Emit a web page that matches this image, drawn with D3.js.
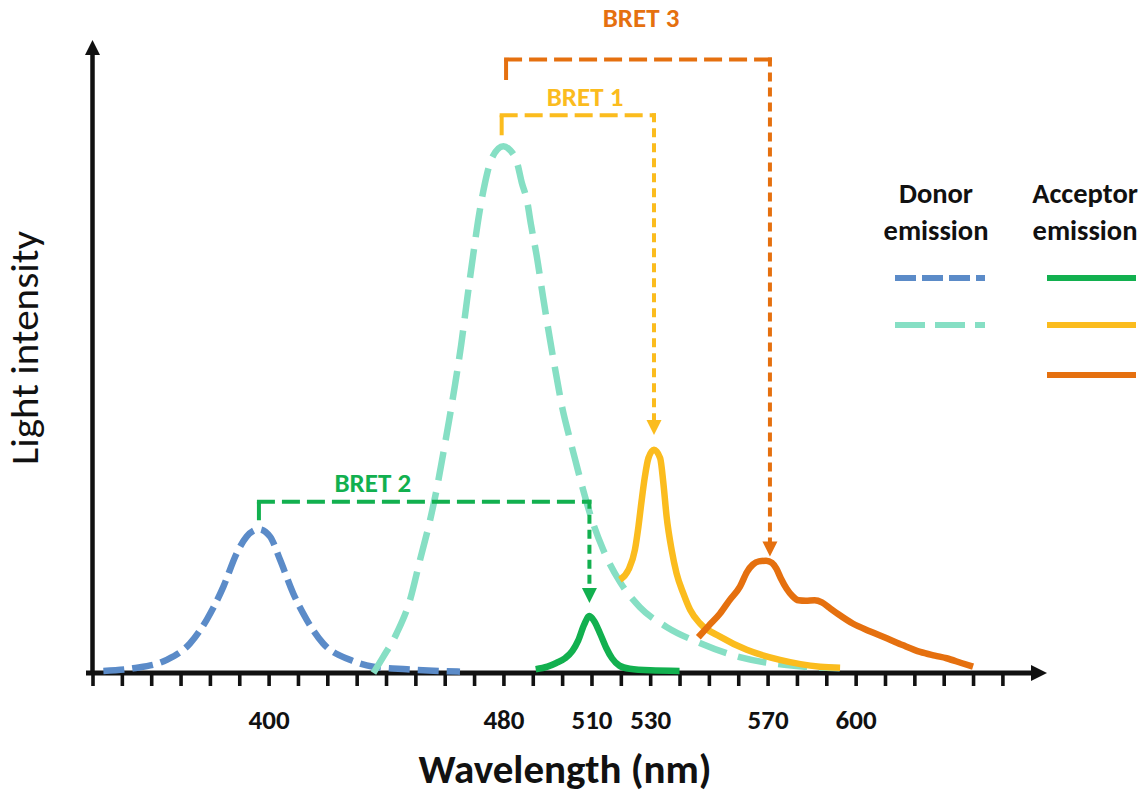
<!DOCTYPE html>
<html><head><meta charset="utf-8">
<script src="https://cdn.jsdelivr.net/npm/d3@7"></script>
<style>
html,body{margin:0;padding:0;background:#fff;}
svg{display:block;font-family:Carlito, Lato, "Open Sans", sans-serif;}
</style></head><body>
<svg id="chart" width="1142" height="800"></svg>
<script>
// ---------------- data ----------------
// wavelength axis (nm): one tick every 10 nm
const xTickValues = [340,350,360,370,380,390,400,410,420,430,440,450,460,470,480,490,500,510,520,530,540,550,560,570,580,590,600,610,620,630,640,650];
const xTickLabels = [400, 480, 510, 530, 570, 600];

// emission spectra: [wavelength nm, relative intensity (teal peak = 100)]
const donorBlue = [[343.7,0.4],[353.9,0.9],[365.3,2.5],[373.2,5.6],[378.9,10.1],[384.6,16.4],[389.1,22.7],[392.5,25.9],[396.7,27.3],[400.5,25.9],[403.9,21.5],[408.4,15.1],[413,10.1],[418.6,5.6],[427.7,2.5],[435.7,1.2],[447.1,0.7],[465.2,0.25]];
const donorTeal = [[435.7,0],[439.1,3.1],[443.6,7.5],[448.2,13.9],[451.6,21.5],[455,29],[457.4,35.3],[459.4,41.4],[461.5,48],[463.5,54.7],[465.6,62.3],[467.6,70.8],[469.7,79.4],[471.7,87],[473.7,93],[476.1,97.8],[480,100],[482.2,99.3],[484.6,97],[486.3,93],[488,89.8],[489.4,85.1],[491.4,79],[493.5,71.4],[495.9,63.2],[498.3,55.6],[500,50.5],[502.1,45.6],[504.5,40.4],[506.9,35.3],[510.2,29],[514,23.4],[519.7,17.3],[526.5,12.5],[535.7,8.7],[546.9,5.7],[560.5,3],[576.5,1.5],[594.6,0.9]];
const acceptorGreen = [[491,0.7],[495,1.2],[498,1.9],[501,2.8],[503.5,4.2],[505.5,6.2],[507.5,9.2],[509.3,10.8],[511,9.8],[513,7.4],[515,4.8],[517,2.8],[519.5,1.4],[523,0.8],[530,0.5],[540,0.4]];
const acceptorYellow = [[519.7,17.7],[522.6,19.6],[524.8,23.4],[526,27.8],[527.1,32.8],[528.2,37.3],[529.4,40.8],[531.3,42.4],[533.4,40.8],[534.5,36],[535.6,29.7],[537.3,23.4],[539,18.9],[541.3,15.1],[543.6,12],[547,9.4],[553.8,6.9],[562.9,4.4],[574.2,2.5],[587.9,1.2],[594.7,1.0]];
const acceptorOrange = [[546.4,6.8],[550,9],[553.8,11.3],[557,13.8],[560.6,16.4],[563,19.2],[565,20.6],[567,21.2],[569.5,21.3],[571.5,20.9],[573,19.8],[574.5,18],[576.5,16],[578.5,14.6],[580.5,13.8],[583,13.7],[586,13.8],[588.5,13.4],[591,12.4],[594,11.2],[599,9.4],[605,7.9],[610.6,6.6],[616,5.3],[622,4],[627,3.3],[631,2.8],[636,1.9],[640,1.2]];

// BRET pairs: donor peak -> acceptor peak (nm), bracket level / start / arrow tip (intensity)
const bretNames = ["BRET 1", "BRET 2", "BRET 3"];
const bretDonorNm = [479.4, 396.7, 480.9];
const bretAcceptorNm = [531.3, 509.3, 570.8];
const bretLevel = [105.9, 32.5, 116.5];
const bretStart = [102.1, 29, 112.6];
const bretTip = [45.2, 13.3, 22.1];

const legendHeaders = [["Donor", "emission"], ["Acceptor", "emission"]];

// ---------------- styles ----------------
const C = {blue:"#5b8bc8", teal:"#86dfc4", green:"#12b04f", yellow:"#fbbc1e", orange:"#e5700f"};
const bretColors = [C.yellow, C.green, C.orange];
const bretLabelNm = [507.8, 435.5, 526.9];
const bretLabelVal = [107.7, 34.3, 122.7];

const svg = d3.select("#chart");
const x = d3.scaleLinear().domain([340, 650]).range([92.5, 1002.4]);
const y = d3.scaleLinear().domain([0, 120]).range([673, 41]);

// ---------------- axes ----------------
const xAxis = d3.axisBottom(x).tickValues(xTickValues).tickSize(13)
  .tickFormat(d => xTickLabels.includes(d) ? d : "");
const gx = svg.append("g").attr("transform", `translate(0,${y(0)})`).call(xAxis);
gx.select(".domain").remove();
gx.selectAll(".tick line").attr("stroke", "#111").attr("stroke-width", 3.6);
gx.selectAll(".tick text").attr("fill", "#111").attr("font-size", 27).attr("font-weight", 700)
  .attr("y", 56).attr("dy", 0).attr("font-family", "Carlito, Lato, sans-serif");

// x axis line with arrow
svg.append("line").attr("x1", 86).attr("x2", 1033).attr("y1", y(0)).attr("y2", y(0))
  .attr("stroke", "#111").attr("stroke-width", 5);
svg.append("path").attr("fill", "#111")
  .attr("d", `M1047,${y(0)} L1031,${y(0)-8} L1031,${y(0)+8} Z`);
// y axis line with arrow
svg.append("line").attr("x1", x(340)).attr("x2", x(340)).attr("y1", y(0)+2).attr("y2", 54)
  .attr("stroke", "#111").attr("stroke-width", 4.5);
svg.append("path").attr("fill", "#111")
  .attr("d", `M${x(340)},40 L${x(340)-7.5},55 L${x(340)+7.5},55 Z`);

// axis titles
svg.append("text").attr("x", 565).attr("y", 783).attr("text-anchor", "middle")
  .attr("font-size", 41).attr("font-weight", 700).attr("fill", "#111").text("Wavelength (nm)");
svg.append("text").attr("transform", "translate(38,348) rotate(-90)").attr("text-anchor", "middle")
  .attr("font-size", 38).attr("textLength", 234).attr("lengthAdjust", "spacingAndGlyphs")
  .attr("fill", "#111").text("Light intensity");

// ---------------- curves ----------------
const line = d3.line().x(d => x(d[0])).y(d => y(d[1])).curve(d3.curveMonotoneX);
const series = [
  {data: donorBlue, color: C.blue, dash: "21,8"},
  {data: donorTeal, color: C.teal, dash: "29,12"},
  {data: acceptorGreen, color: C.green, dash: null},
  {data: acceptorYellow, color: C.yellow, dash: null},
  {data: acceptorOrange, color: C.orange, dash: null}
];
svg.append("g").selectAll("path").data(series).join("path")
  .attr("d", d => line(d.data)).attr("fill", "none")
  .attr("stroke", d => d.color).attr("stroke-width", 6.5)
  .attr("stroke-linejoin", "round")
  .attr("stroke-dasharray", d => d.dash);

// ---------------- BRET brackets ----------------
bretNames.forEach((name, i) => {
  const col = bretColors[i];
  const x0 = x(bretDonorNm[i]), x1 = x(bretAcceptorNm[i]);
  const yl = y(bretLevel[i]), ys = y(bretStart[i]), yt = y(bretTip[i]);
  const g = svg.append("g");
  g.append("line").attr("x1", x0).attr("x2", x0).attr("y1", ys).attr("y2", yl)
    .attr("stroke", col).attr("stroke-width", 4);
  g.append("line").attr("x1", x0 - 2).attr("x2", x1 + 2).attr("y1", yl).attr("y2", yl)
    .attr("stroke", col).attr("stroke-width", 4).attr("stroke-dasharray", "18,7");
  g.append("line").attr("x1", x1).attr("x2", x1).attr("y1", yl - 2).attr("y2", yt - 14)
    .attr("stroke", col).attr("stroke-width", 4).attr("stroke-dasharray", "9,6");
  g.append("path").attr("fill", col)
    .attr("d", `M${x1},${yt} L${x1-7.5},${yt-15} L${x1+7.5},${yt-15} Z`);
  g.append("text").attr("x", x(bretLabelNm[i])).attr("y", y(bretLabelVal[i]))
    .attr("text-anchor", "middle").attr("font-size", 27).attr("font-weight", 700)
    .attr("fill", col).text(name);
});

// ---------------- legend ----------------
const legendCols = [936, 1085];
legendHeaders.forEach((lines, i) => {
  lines.forEach((t, j) => {
    svg.append("text").attr("x", legendCols[i]).attr("y", 203 + j * 37)
      .attr("text-anchor", "middle").attr("font-size", 28.5).attr("font-weight", 700)
      .attr("fill", "#111").text(t);
  });
});
const legendItems = [
  {x1: 895, x2: 985, y: 278, color: C.blue, dash: "21,6"},
  {x1: 895, x2: 985, y: 325, color: C.teal, dash: "30,10"},
  {x1: 1047, x2: 1136, y: 278, color: C.green, dash: null},
  {x1: 1047, x2: 1136, y: 325, color: C.yellow, dash: null},
  {x1: 1047, x2: 1136, y: 375, color: C.orange, dash: null}
];
svg.append("g").selectAll("line").data(legendItems).join("line")
  .attr("x1", d => d.x1).attr("x2", d => d.x2).attr("y1", d => d.y).attr("y2", d => d.y)
  .attr("stroke", d => d.color).attr("stroke-width", 6).attr("stroke-dasharray", d => d.dash);
</script>
</body></html>
